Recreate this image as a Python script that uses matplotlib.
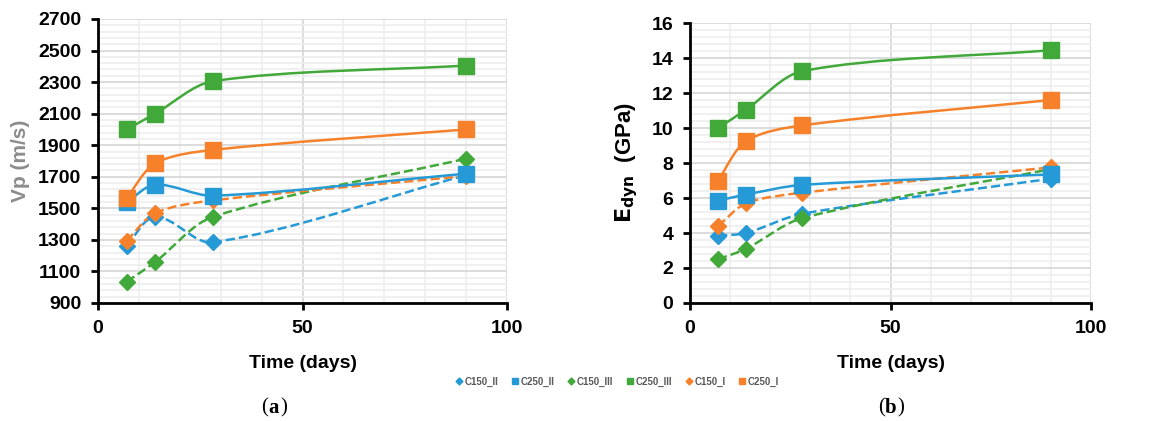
import matplotlib.pyplot as plt
import numpy as np
from matplotlib.path import Path
from matplotlib.patches import PathPatch
from matplotlib.lines import Line2D
from matplotlib.ticker import MultipleLocator

# curing age (days)
days = [7, 14, 28, 90]

# ultrasonic pulse velocity Vp (m/s)
vp_c150_ii = [1260, 1445, 1285, 1710]
vp_c250_ii = [1540, 1650, 1580, 1720]
vp_c150_iii = [1035, 1160, 1445, 1815]
vp_c250_iii = [2000, 2100, 2305, 2405]
vp_c150_i = [1295, 1470, 1550, 1705]
vp_c250_i = [1565, 1785, 1870, 2000]

# dynamic modulus Edyn (GPa)
ed_c150_ii = [3.85, 4.0, 5.1, 7.1]
ed_c250_ii = [5.85, 6.2, 6.75, 7.35]
ed_c150_iii = [2.5, 3.1, 4.85, 7.65]
ed_c250_iii = [10.0, 11.05, 13.25, 14.45]
ed_c150_i = [4.4, 5.7, 6.3, 7.75]
ed_c250_i = [7.0, 9.25, 10.15, 11.6]

names = ["C150_II", "C250_II", "C150_III", "C250_III", "C150_I", "C250_I"]

BLUE, GREEN, ORANGE = "#259ad6", "#41a83a", "#f7812a"
styles = [(BLUE, "D", "--"), (BLUE, "s", "-"), (GREEN, "D", "--"),
          (GREEN, "s", "-"), (ORANGE, "D", "--"), (ORANGE, "s", "-")]


def smooth_path(x, y, ky):
    # excel-like smoothed line, built in a square-ish space (y * ky)
    pts = np.column_stack([x, np.asarray(y, float) * ky]).astype(float)
    p = np.vstack([pts[0], pts, pts[-1]])
    verts = [pts[0]]
    codes = [Path.MOVETO]
    for i in range(1, len(p) - 2):
        seg = np.linalg.norm(p[i + 1] - p[i])
        d0 = p[i + 1] - p[i - 1]
        d1 = p[i + 2] - p[i]
        c1 = p[i] + d0 / np.linalg.norm(d0) * seg * 0.3
        c2 = p[i + 1] - d1 / np.linalg.norm(d1) * seg * 0.3
        verts += [c1, c2, p[i + 1]]
        codes += [Path.CURVE4] * 3
    verts = np.array(verts)
    verts[:, 1] /= ky
    return Path(verts, codes)


def draw_panel(ax, series, yticks, yminor):
    ylo, yhi = yticks[0], yticks[-1]
    ky = 100 / (yhi - ylo) * 0.69  # approx axes aspect (height/width)
    order = [0, 2, 4, 1, 3, 5]
    for k in order:
        col, mk, ls = styles[k]
        ax.add_patch(PathPatch(smooth_path(days, series[k], ky), fill=False,
                               edgecolor=col, lw=1.8, linestyle=ls, zorder=3))
    for k in order:
        col, mk, ls = styles[k]
        ax.plot(days, series[k], ls="none", marker=mk, color=col,
                markersize=11 if mk == "s" else 8, zorder=4)
    ax.set_xlim(0, 100)
    ax.set_ylim(ylo, yhi)
    ax.xaxis.set_major_locator(MultipleLocator(50))
    ax.xaxis.set_minor_locator(MultipleLocator(10))
    ax.set_yticks(yticks)
    ax.set_yticks(np.arange(ylo, yhi + 1e-9, yminor), minor=True)
    ax.grid(which="major", color="#d6d6d6", lw=1.2)
    ax.grid(which="minor", color="#eeeeee", lw=1.2)
    ax.set_axisbelow(True)
    for s in ["top", "right"]:
        ax.spines[s].set_visible(False)
    for s in ["left", "bottom"]:
        ax.spines[s].set_linewidth(2)
    ax.tick_params(which="major", direction="out", length=5, width=2,
                   labelsize=14, pad=7)
    ax.tick_params(which="minor", length=0)
    for lab in ax.get_xticklabels() + ax.get_yticklabels():
        lab.set_fontweight("bold")
    ax.set_xlabel("Time (days)", fontsize=14, fontweight="bold", labelpad=13)


plt.rcParams["font.family"] = ["Liberation Sans", "DejaVu Sans"]
fig = plt.figure(figsize=(11.5, 4.21), dpi=100)

ax1 = fig.add_axes([0.0852, 0.2803, 0.3557, 0.6746])
draw_panel(ax1, [vp_c150_ii, vp_c250_ii, vp_c150_iii, vp_c250_iii,
                 vp_c150_i, vp_c250_i], list(range(900, 2701, 200)), 40)
ax1.set_ylabel("Vp (m/s)", fontsize=15, fontweight="bold", color="#8c8c8c",
               labelpad=6)

ax2 = fig.add_axes([0.600, 0.2803, 0.3487, 0.665])
draw_panel(ax2, [ed_c150_ii, ed_c250_ii, ed_c150_iii, ed_c250_iii,
                 ed_c150_i, ed_c250_i], list(range(0, 17, 2)), 0.4)
ax2.set_ylabel(r"$\mathbf{E_{dyn}}$  (GPa)", fontsize=16, fontweight="bold",
               labelpad=8)

handles = [Line2D([], [], ls="none", marker=mk, color=col,
                  markersize=4 if mk == "s" else 3.5)
           for col, mk, ls in styles]
leg = fig.legend(handles, names, loc="center", bbox_to_anchor=(0.537, 0.093),
                 ncol=6, frameon=False, fontsize=7, handlelength=0.6,
                 handletextpad=0.3, columnspacing=1.4)
for t in leg.get_texts():
    t.set_color("#595959")
    t.set_fontweight("bold")

for xc, letter in [(0.233, "a"), (0.7695, "b")]:
    fig.text(xc, 0.02, "(", fontsize=15, family="Liberation Serif", ha="right")
    fig.text(xc, 0.02, letter, fontsize=15, family="Liberation Serif",
             fontweight="bold", ha="left")
    fig.text(xc + 0.011, 0.02, ")", fontsize=15, family="Liberation Serif",
             ha="left")

fig.savefig("out.png", dpi=100)
